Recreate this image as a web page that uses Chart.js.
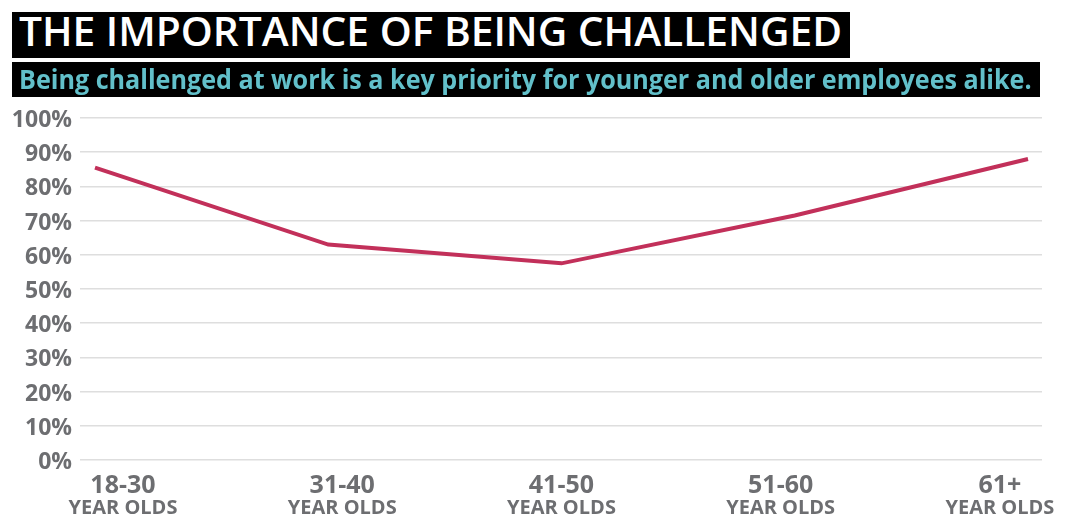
<!DOCTYPE html>
<html>
<head>
<meta charset="utf-8">
<script src="https://cdn.jsdelivr.net/npm/chart.js@4/dist/chart.umd.min.js"></script>
<style>
  html, body { margin: 0; padding: 0; background: #fff; }
  #wrap { position: relative; width: 1081px; height: 521px; overflow: hidden; }
  #chart { position: absolute; left: 0; top: 0; }
  .head { position: absolute; left: 12px; background: #000; font-family: 'Open Sans', sans-serif; white-space: nowrap; z-index: 2; box-sizing: border-box; padding-left: 7px; }
  .head span { display: inline-block; transform-origin: 0 50%; }
  #title { top: 12px; width: 838px; height: 46px; line-height: 38px; color: #fff; font-weight: 600; font-size: 40px; overflow: hidden; }
  #subtitle { top: 62px; width: 1028px; height: 35px; line-height: 34px; color: #62c0ca; font-weight: 700; font-size: 26px; }
</style>
</head>
<body>
<div id="wrap">
  <div id="title" class="head"><span>THE IMPORTANCE OF BEING CHALLENGED</span></div>
  <div id="subtitle" class="head"><span>Being challenged at work is a key priority for younger and older employees alike.</span></div>
  <canvas id="chart" width="1081" height="521"></canvas>
</div>
<script>
var ages = ['18-30', '31-40', '41-50', '51-60', '61+'];
var subLabel = 'YEAR OLDS';
var challenged = [85.5, 63, 57.5, 71.5, 88];

// squeeze heading text to the width it has in the picture
function fitText(id, target) {
  var span = document.querySelector('#' + id + ' span');
  span.style.transform = 'scaleX(' + (target / span.offsetWidth) + ')';
}
fitText('title', 823);
fitText('subtitle', 1013);

var grey = '#6d6e71';
var idx = ages.map(function(a, i) { return i; });

function labelAxis(weight, size, pad, height, text) {
  return {
    type: 'linear',
    position: 'bottom',
    weight: weight,
    min: -0.196,
    max: 4.192,
    grid: { display: false, drawTicks: false },
    border: { display: false },
    afterBuildTicks: function(axis) {
      axis.ticks = idx.map(function(i) { return { value: i }; });
    },
    afterFit: function(axis) { axis.height = height; },
    ticks: {
      autoSkip: false,
      maxRotation: 0,
      padding: pad,
      color: grey,
      font: { family: 'Open Sans', weight: 'bold', size: size },
      callback: text
    }
  };
}

var ctx = document.getElementById('chart');
var chart = new Chart(ctx, {
  type: 'line',
  data: {
    datasets: [{
      label: 'Being challenged',
      data: challenged.map(function(v, i) { return { x: i, y: v }; }),
      borderColor: '#c2305a',
      borderWidth: 4,
      pointRadius: 0,
      tension: 0,
      fill: false
    }]
  },
  options: {
    responsive: false,
    animation: false,
    layout: { padding: { top: 118, left: 0, right: 39, bottom: 0 } },
    plugins: { legend: { display: false }, tooltip: { enabled: false } },
    scales: {
      x: {
        type: 'linear',
        min: -0.0643,
        max: 4.06,
        display: false
      },
      ages: labelAxis(0, 25, 11, 36, function(v) { return ages[v]; }),
      years: labelAxis(1, 20, 0, 25, function() { return subLabel; }),
      y: {
        min: 0,
        max: 100,
        afterFit: function(axis) { axis.width = 80; },
        grid: { color: '#dedede', lineWidth: 1.5, drawTicks: false },
        border: { display: false },
        ticks: {
          stepSize: 10,
          padding: 8,
          labelOffset: 2.5,
          color: grey,
          font: { family: 'Open Sans', weight: 'bold', size: 23 },
          callback: function(v) { return v + '%'; }
        }
      }
    }
  }
});
</script>
</body>
</html>
